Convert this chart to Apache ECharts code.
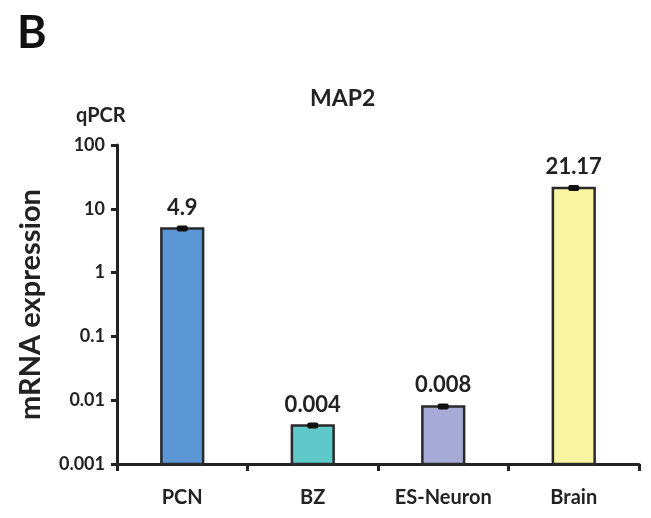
<!DOCTYPE html>
<html><head><meta charset="utf-8">
<script src="https://cdn.jsdelivr.net/npm/echarts@6/dist/echarts.min.js"></script>
<style>html,body{margin:0;padding:0;background:#fff}#c{width:651px;height:518px}</style>
</head><body><div id="c"></div>
<script>
const categories = ['PCN', 'BZ', 'ES-Neuron', 'Brain'];
const values = [4.9, 0.004, 0.008, 21.17];
const valueLabels = ['4.9', '0.004', '0.008', '21.17'];
const barColors = ['#5B97D5', '#5FC8C8', '#A7AAD6', '#F8F4A0'];
const yTickLabels = {'100': '100', '10': '10', '1': '1', '0.1': '0.1', '0.01': '0.01', '0.001': '0.001'};
const Y_MIN = 0.001, Y_MAX = 100;
const FONT = 'Lato';
const chart = echarts.init(document.getElementById('c'), null, {renderer: 'canvas'});
chart.setOption({
  animation: false,
  backgroundColor: '#fff',
  textStyle: {fontFamily: FONT},
  title: [
    {text: 'B', left: 12, top: 6, textStyle: {fontFamily: FONT, fontWeight: 'bold', fontSize: 45, color: '#111'}},
    {text: 'MAP2', left: 305, top: 82, textStyle: {fontFamily: FONT, fontWeight: 'bold', fontSize: 23, color: '#222'}},
    {text: 'qPCR', left: 71, top: 101, textStyle: {fontFamily: FONT, fontWeight: 'bold', fontSize: 20, color: '#222'}}
  ],
  grid: {left: 117, right: 12, top: 145, bottom: 54},
  xAxis: {
    type: 'category', data: categories,
    axisLine: {lineStyle: {color: '#222', width: 3}},
    axisTick: {show: true, length: 7, lineStyle: {color: '#222', width: 3}},
    axisLabel: {fontFamily: FONT, fontWeight: 'bold', fontSize: 20, color: '#222', margin: 24}
  },
  yAxis: {
    type: 'log', logBase: 10, min: Y_MIN, max: Y_MAX,
    name: 'mRNA expression', nameLocation: 'middle', nameRotate: 90, nameGap: 72,
    nameTextStyle: {fontFamily: FONT, fontWeight: 'bold', fontSize: 29, color: '#222'},
    axisLine: {show: true, lineStyle: {color: '#222', width: 3}},
    axisTick: {show: true, inside: false, length: 6, lineStyle: {color: '#222', width: 3}},
    splitLine: {show: false},
    axisLabel: {fontFamily: FONT, fontWeight: 'bold', fontSize: 18, color: '#222', margin: 12,
      formatter: v => { const k = String(+v.toPrecision(3)); return yTickLabels[k] !== undefined ? yTickLabels[k] : k; }}
  },
  series: [
    {
      type: 'custom',
      encode: {x: 0, y: 1},
      data: values.map((v, i) => [i, v]),
      renderItem: (params, api) => {
        const i = api.value(0), v = api.value(1);
        const top = api.coord([i, v]);
        const base = api.coord([i, Y_MIN]);
        const bw = api.size([1, 0])[0] * 0.32;
        return {type: 'group', children: [
          {type: 'rect',
            shape: {x: top[0] - bw / 2, y: top[1], width: bw, height: base[1] - top[1]},
            style: {fill: barColors[i], stroke: '#2a2a2a', lineWidth: 2.5}},
          {type: 'rect', z2: 10,
            shape: {x: top[0] - 5.5, y: top[1] - 3, width: 11, height: 6, r: 2},
            style: {fill: '#111'}},
          {type: 'text', z2: 10,
            style: {x: top[0], y: top[1] - 10, text: valueLabels[i], align: 'center', verticalAlign: 'bottom',
              fontFamily: FONT, fontWeight: 'bold', fontSize: 22, fill: '#222'}}
        ]};
      }
    }
  ]
});
</script></body></html>
